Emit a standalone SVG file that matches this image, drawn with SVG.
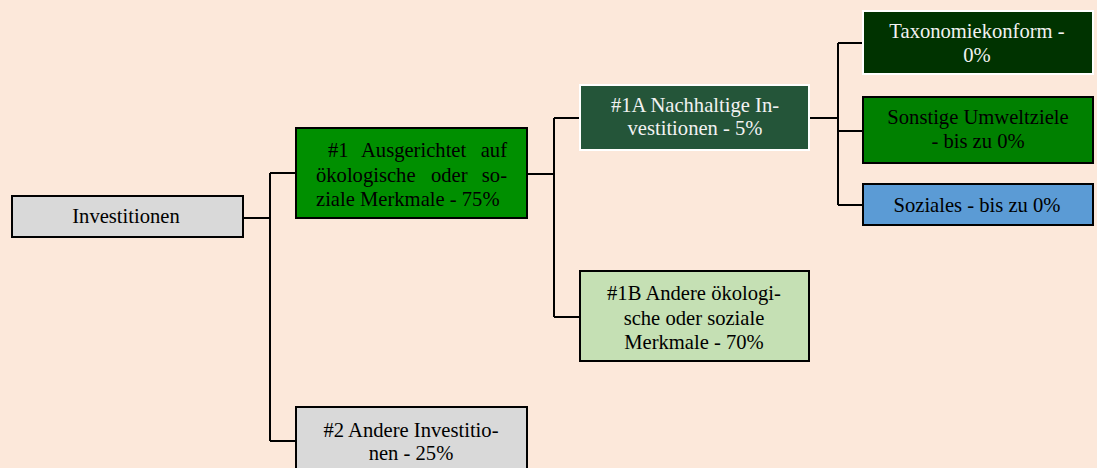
<svg xmlns="http://www.w3.org/2000/svg" width="1097" height="468" viewBox="0 0 1097 468">
<style>
.box{stroke:#000;stroke-width:2}
.wbox{stroke:#fff;stroke-width:2}
text{font-family:'Liberation Serif','Times New Roman',serif;font-size:20.6px;fill:#000;text-anchor:middle}
.tw{fill:#f2f2f2}
.l{text-anchor:start}
.c{fill:none;stroke:#000;stroke-width:2}
</style>
<rect width="1097" height="468" fill="#FCE8DA"/>
<g id="connectors">
<path class="c" d="M243 218H270M270 173V441M270 173H296M270 441H296"/>
<path class="c" d="M527 174H554M554 118V317M554 118H580M554 317H580"/>
<path class="c" d="M809 118H838M838 43V205M838 43H863M838 131H863M838 205H863"/>
</g>
<g id="n-investitionen">
<rect class="box" x="12" y="196" width="231" height="41" fill="#D9D9D9"/>
<text x="126" y="223">Investitionen</text>
</g>
<g id="n-1">
<rect class="box" x="296" y="128" width="231" height="90" fill="#008F00"/>
<text class="l"><tspan x="328" y="157">#1</tspan><tspan x="361" y="157">Ausgerichtet</tspan><tspan x="507" y="157" style="text-anchor:end">auf</tspan></text>
<text class="l"><tspan x="316" y="182">ökologische</tspan><tspan x="431" y="182">oder</tspan><tspan x="507" y="182" style="text-anchor:end">so-</tspan></text>
<text class="l" x="316" y="206">ziale Merkmale - 75%</text>
</g>
<g id="n-1a">
<rect class="wbox" x="580" y="85" width="229" height="65" fill="#245539"/>
<text class="tw"><tspan x="695" y="112">#1A Nachhaltige In-</tspan><tspan x="695" y="135">vestitionen - 5%</tspan></text>
</g>
<g id="n-1b">
<rect class="box" x="580" y="271" width="229" height="90" fill="#C5E0B4"/>
<text><tspan x="694" y="300">#1B Andere ökologi-</tspan><tspan x="694" y="325">sche oder soziale</tspan><tspan x="694" y="349">Merkmale - 70%</tspan></text>
</g>
<g id="n-2">
<rect class="box" x="296" y="407" width="231" height="70" fill="#D9D9D9"/>
<text><tspan x="411" y="437">#2 Andere Investitio-</tspan><tspan x="411" y="460">nen - 25%</tspan></text>
</g>
<g id="n-taxo">
<rect class="wbox" x="863" y="11" width="230" height="63" fill="#003300"/>
<text class="tw"><tspan x="977" y="38">Taxonomiekonform -</tspan><tspan x="977" y="62">0%</tspan></text>
</g>
<g id="n-sonstige">
<rect class="box" x="863" y="97" width="230" height="66" fill="#008000"/>
<text><tspan x="978" y="124">Sonstige Umweltziele</tspan><tspan x="978" y="148">- bis zu 0%</tspan></text>
</g>
<g id="n-soziales">
<rect class="box" x="863" y="184" width="230" height="41" fill="#5B9BD5"/>
<text><tspan x="977" y="212">Soziales - bis zu 0%</tspan></text>
</g>
</svg>
